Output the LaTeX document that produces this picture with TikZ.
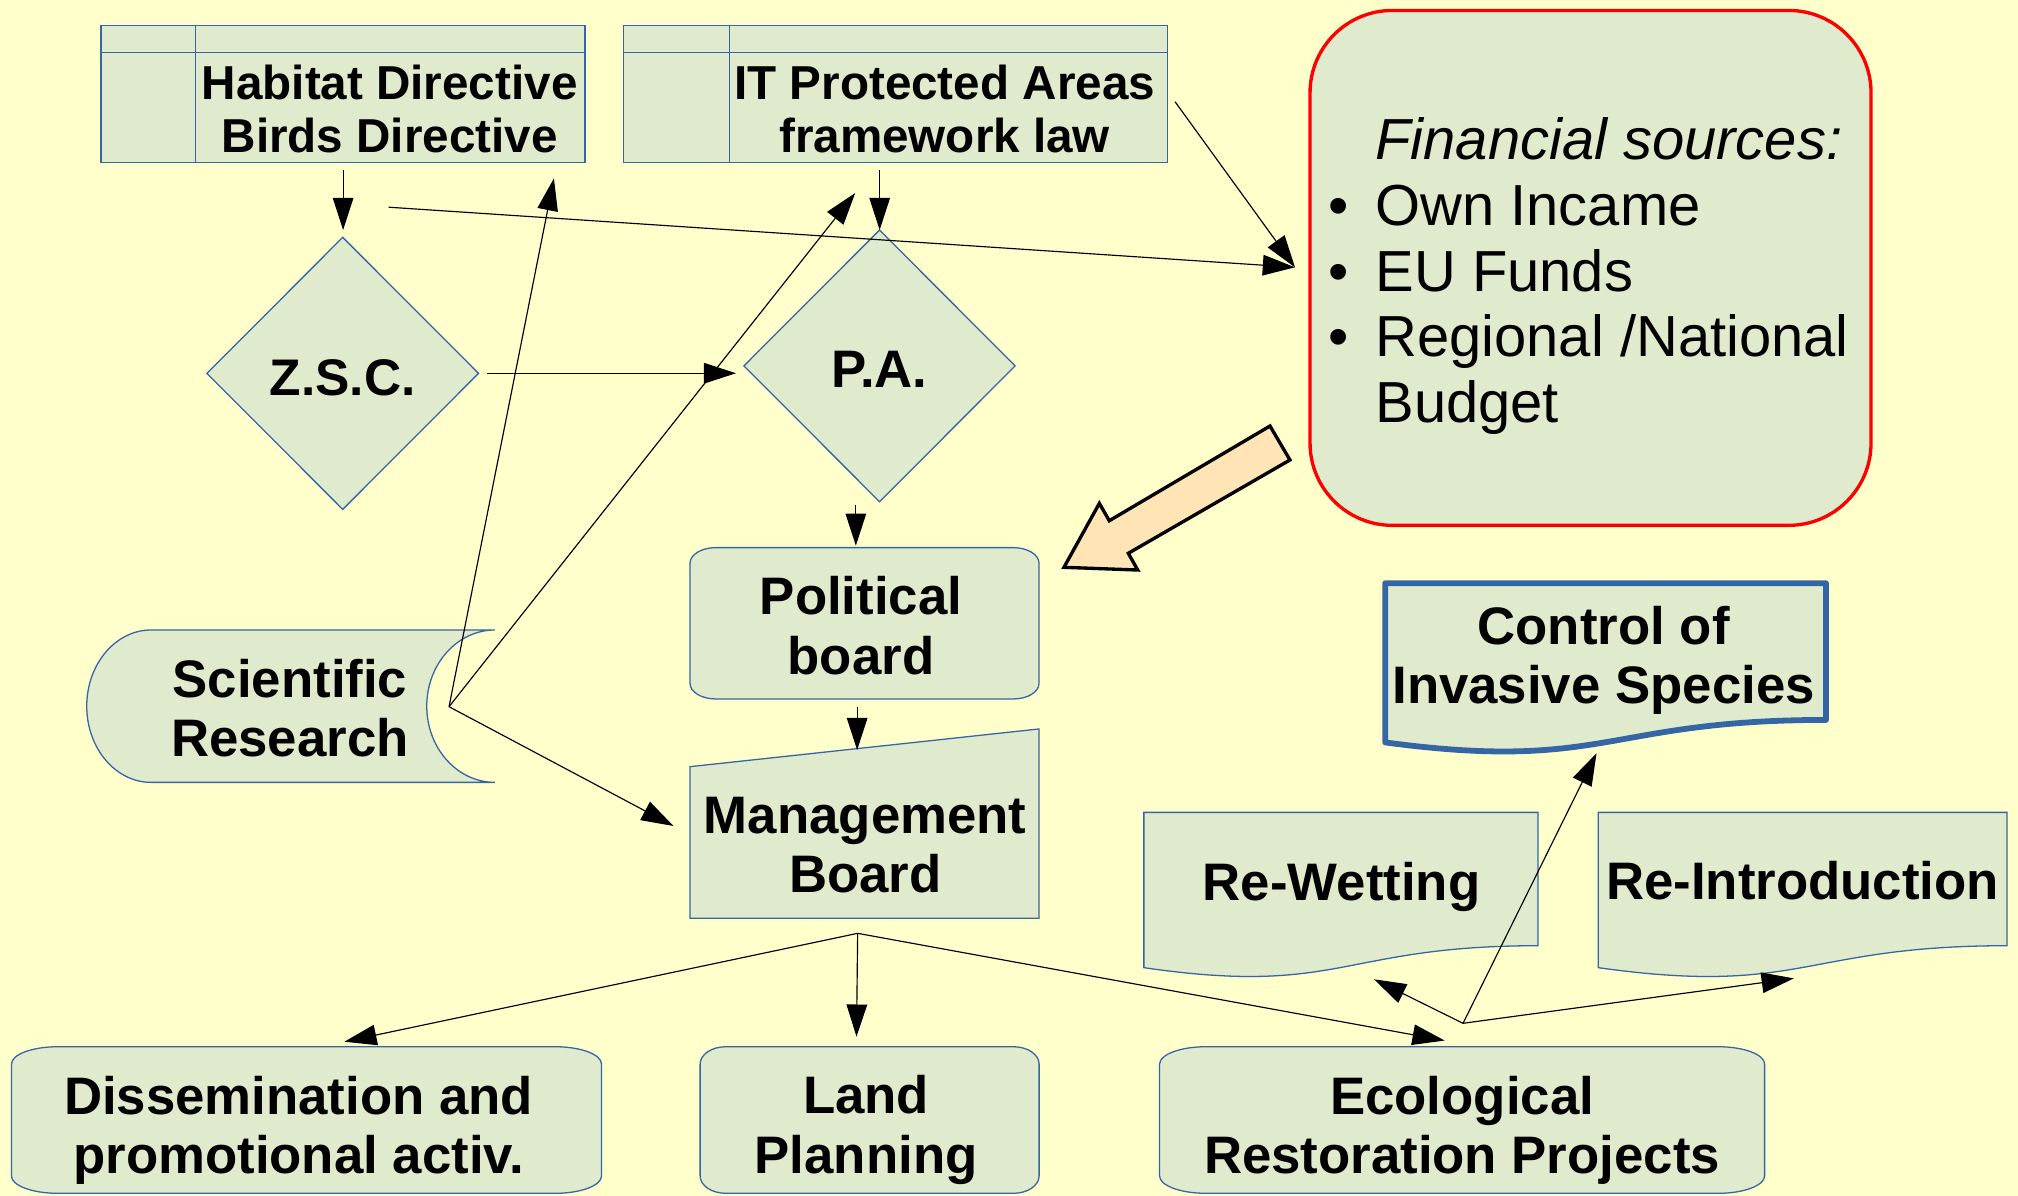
\documentclass[tikz,border=0pt]{standalone}
\usepackage{fontspec}
\setmainfont{Liberation Sans}
\usetikzlibrary{arrows.meta,shapes.geometric,calc}

\definecolor{bgyellow}{RGB}{255,255,204}
\definecolor{shapefill}{RGB}{224,234,205}
\definecolor{shapeline}{RGB}{52,101,164}
\definecolor{finred}{RGB}{255,0,0}
\definecolor{peach}{RGB}{255,228,181}

\tikzset{
  box/.style={rectangle, inner sep=0pt, outer sep=0pt},
  shp/.style={fill=shapefill, draw=shapeline, line width=1pt},
  ctrlshp/.style={fill=shapefill, draw=shapeline, line width=4.5pt, line join=round},
  lbl/.style={font=\fontsize{41}{46}\selectfont\bfseries, align=center, inner sep=0pt, outer sep=0pt},
  hdr/.style={font=\fontsize{37}{41}\selectfont\bfseries, align=center, inner sep=0pt, outer sep=0pt},
  conn/.style={draw=black, line width=0.9pt, -{Triangle[length=25pt,width=16pt]}},
  plainline/.style={draw=black, line width=0.9pt},
  blockarrow/.style={fill=peach, draw=black, line width=2.6pt, line join=miter},
}

\newcommand\ellrect[4]{% node, rx, ry, style
  \path[#4] ([xshift=#2]#1.north west) -- ([xshift=-#2]#1.north east)
    arc[start angle=90,end angle=0,x radius=#2,y radius=#3]
    -- ([yshift=#3]#1.south east)
    arc[start angle=0,end angle=-90,x radius=#2,y radius=#3]
    -- ([xshift=#2]#1.south west)
    arc[start angle=270,end angle=180,x radius=#2,y radius=#3]
    -- ([yshift=-#3]#1.north west)
    arc[start angle=180,end angle=90,x radius=#2,y radius=#3] -- cycle;}

\newcommand\docpath[2]{% node, style
  \path[#2] (#1.north west) -- (#1.north east)
    -- ($(#1.north east)!0.802!(#1.south east)$)
    .. controls ($(#1.north)!0.802!(#1.south)$) and ($(#1.north)!1.107!(#1.south)$)
    .. ($(#1.north west)!0.934!(#1.south west)$) -- cycle;}

\begin{document}
\begin{tikzpicture}[x=1pt,y=-1pt]
\clip (0,0) rectangle (1568,929);
\fill[bgyellow] (0,0) rectangle (1568,929);

% ---------- top table boxes ----------
\node[box, shp, minimum width=376.1pt, minimum height=106pt] (habitat) at (266.55,73) {};
\draw[draw=shapeline, line width=1pt] (78.5,40.7) -- (454.6,40.7) (152,20) -- (152,126);
\node[hdr] (habitattxt) at (302.8,84.9) {Habitat Directive\\Birds Directive};

\node[box, shp, minimum width=422.4pt, minimum height=106pt] (itlaw) at (695.8,73) {};
\draw[draw=shapeline, line width=1pt] (484.6,40.7) -- (907,40.7) (567,20) -- (567,126);
\node[hdr] (itlawtxt) at (734,84.9) {IT Protected Areas\\framework law};

% ---------- diamonds ----------
\node[diamond, shp, inner sep=0pt, outer sep=0pt, minimum width=211pt, minimum height=211.4pt,
      font=\fontsize{40}{46}\selectfont\bfseries, text height=33.8pt, text depth=0pt] (zsc) at (266.3,290.1) {Z.S.C.};
\node[diamond, shp, inner sep=0pt, outer sep=0pt, minimum width=210.7pt, minimum height=211.1pt,
      font=\fontsize{41}{46}\selectfont\bfseries, text height=33.4pt, text depth=0pt] (pa) at (683.4,284.3) {P.A.};

% ---------- financial sources ----------
\node[box, draw=finred, line width=2.6pt, fill=shapefill, rounded corners=64pt,
      minimum width=435.9pt, minimum height=400.1pt] (fin) at (1235.85,208.15) {};
\node[anchor=west, align=left, inner sep=0pt, outer sep=0pt, font=\fontsize{45}{51}\selectfont] (fintxt) at (1068.8,214.6)
  {\textit{Financial sources:}\\
   \llap{\textbullet\hspace{20.6pt}}Own Incame\\
   \llap{\textbullet\hspace{20.6pt}}EU Funds\\
   \llap{\textbullet\hspace{20.6pt}}Regional /National\\
   Budget};

% ---------- block arrow ----------
\draw[blockarrow] (986.8,331) -- (1002.3,357.4) -- (876.7,429.9) -- (884,442.9)
  -- (826.7,440.8) -- (854.2,391.1) -- (861.9,404.6) -- cycle;

% ---------- political board ----------
\node[box, minimum width=271.1pt, minimum height=117.6pt] (pol) at (671.75,484.3) {};
\ellrect{pol}{20pt}{12pt}{shp}
\node[lbl] (poltxt) at (669,486.1) {Political\\board};

% ---------- management board ----------
\node[box, minimum width=271.1pt, minimum height=147.1pt] (mgmt) at (671.75,639.95) {};
\path[shp] (mgmt.south west) -- ([yshift=-29.3pt]mgmt.north west) -- (mgmt.north east) -- (mgmt.south east) -- cycle;
\node[lbl] (mgmttxt) at (672.3,656.8) {Management\\Board};

% ---------- scientific research ----------
\node[box, minimum width=317.2pt, minimum height=118.4pt] (sci) at (226,548.7) {};
\path[shp] ([xshift=50pt]sci.north west) -- (sci.north east)
  arc[start angle=90,end angle=270,x radius=53pt,y radius=59.2pt]
  -- ([xshift=50pt]sci.south west)
  arc[start angle=270,end angle=90,x radius=50pt,y radius=59.2pt] -- cycle;
\node[lbl] (scitxt) at (225.3,550) {Scientific\\Research};

% ---------- document shapes ----------
\node[box, minimum width=342.5pt, minimum height=132.4pt] (ctrl) at (1247.55,519.4) {};
\docpath{ctrl}{ctrlshp}
\node[lbl] (ctrltxt) at (1246,512.8) {Control of\\Invasive Species};

\node[box, minimum width=306.2pt, minimum height=129.2pt] (rew) at (1041.9,695.8) {};
\docpath{rew}{shp}
\node[lbl] (rewtxt) at (1042.4,688.9) {Re-Wetting};

\node[box, minimum width=317.5pt, minimum height=129.2pt] (rei) at (1400.65,695.8) {};
\docpath{rei}{shp}
\node[lbl] (reitxt) at (1400.6,684.6) {Re-Introduction};

% ---------- bottom boxes ----------
\node[box, minimum width=458.5pt, minimum height=113.9pt] (dis) at (238.15,870.25) {};
\ellrect{dis}{36pt}{13.5pt}{shp}
\node[lbl] (distxt) at (232,878) {Dissemination and\\promotional activ.};

\node[box, minimum width=263.4pt, minimum height=113.9pt] (land) at (675.7,870.25) {};
\ellrect{land}{20pt}{13.5pt}{shp}
\node[lbl] (landtxt) at (673,878) {Land\\Planning};

\node[box, minimum width=470.1pt, minimum height=113.9pt] (eco) at (1136.05,870.25) {};
\ellrect{eco}{36pt}{13.5pt}{shp}
\node[lbl] (ecotxt) at (1136,878) {Ecological\\Restoration Projects};

% ---------- connector end points ----------
\coordinate (habS) at (266.6,132);
\coordinate (zscN) at (266.6,178.7);
\coordinate (itS) at (683.5,132);
\coordinate (paN) at (683.5,178.7);
\coordinate (longS) at (302,161);
\coordinate (itE) at (913,79);
\coordinate (finW) at (1006.2,207.7);
\coordinate (zscE) at (378.4,290);
\coordinate (paW) at (571.9,290);
\coordinate (sciJ) at (348.9,549.1);
\coordinate (habB) at (430.4,138.6);
\coordinate (itB) at (664.5,150);
\coordinate (mgmtW) at (523.3,641.8);
\coordinate (paS) at (665,392);
\coordinate (polN) at (665,424);
\coordinate (polS) at (666,549);
\coordinate (mgmtN) at (666,582.8);
\coordinate (mgmtJ) at (666.4,725.2);
\coordinate (disN) at (267.6,809.4);
\coordinate (landN) at (665.5,805.5);
\coordinate (ecoN) at (1122.5,808.5);
\coordinate (ecoJ) at (1136.8,795.1);
\coordinate (ctrlS) at (1240.5,585.3);
\coordinate (rewS) at (1067.6,760.9);
\coordinate (reiS) at (1393.8,760.2);

% ---------- connectors ----------
\draw[conn] (habS) -- (zscN);
\draw[conn] (itS) -- (paN);
\draw[conn] (longS) -- (finW);
\draw[conn] (itE) -- (finW);
\draw[conn] (zscE) -- (paW);
\draw[conn] (sciJ) -- (habB);
\draw[conn] (sciJ) -- (itB);
\draw[conn] (sciJ) -- (mgmtW);
\draw[conn] (paS) -- (polN);
\draw[conn] (polS) -- (mgmtN);
\draw[conn] (mgmtJ) -- (disN);
\draw[conn] (mgmtJ) -- (landN);
\draw[conn] (mgmtJ) -- (ecoN);
\draw[conn] (ecoJ) -- (ctrlS);
\draw[conn] (ecoJ) -- (rewS);
\draw[conn] (ecoJ) -- (reiS);
\end{tikzpicture}
\end{document}
